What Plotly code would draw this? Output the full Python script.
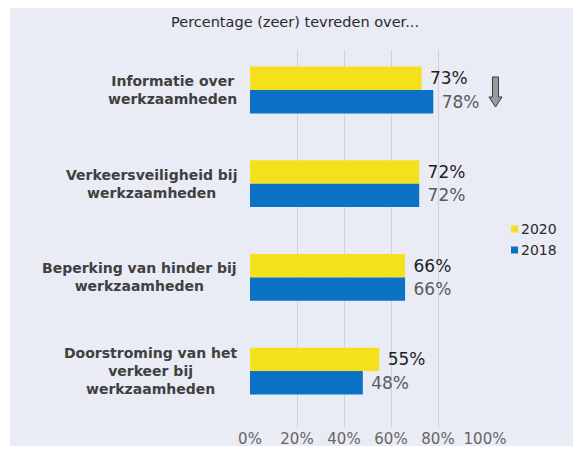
import plotly.graph_objects as go

# data
categories = [
    "Informatie over<br>werkzaamheden",
    "Verkeersveiligheid bij<br>werkzaamheden",
    "Beperking van hinder bij<br>werkzaamheden",
    "Doorstroming van het<br>verkeer bij<br>werkzaamheden",
]
values_2020 = [73, 72, 66, 55]
values_2018 = [78, 72, 66, 48]
x_ticks = [0, 20, 40, 60, 80, 100]
title_text = "Percentage (zeer) tevreden over..."

YELLOW = "#F4E01B"
BLUE = "#0B72C5"
BG = "#E9EBF5"
FONT = "DejaVu Sans"

# the page body adds an 8px margin, so the figure is shrunk by that much
OFF = 8
W, H = 581 - OFF, 450 - OFF
L, R, T, B = 250 - OFF, 96, 50 - OFF, 22
PW, PH = W - L - R, H - T - B


def px_x(px):
    # screen pixel -> paper coordinate
    return (px - OFF - L) / PW


def px_y(py):
    return (H - B - (py - OFF)) / PH


idx = list(range(len(categories)))

fig = go.Figure()
fig.add_trace(go.Bar(
    y=idx, x=values_2020, orientation="h", name="2020",
    marker=dict(color=YELLOW, line=dict(width=0)),
    text=[f"\u00a0{v}%" for v in values_2020], textposition="outside",
    textfont=dict(family=FONT, size=17, color="#1E1E1E"),
    cliponaxis=False, showlegend=False,
))
fig.add_trace(go.Bar(
    y=idx, x=values_2018, orientation="h", name="2018",
    marker=dict(color=BLUE, line=dict(width=0)),
    text=[f"\u00a0{v}%" for v in values_2018], textposition="outside",
    textfont=dict(family=FONT, size=17, color="#5A5A5A"),
    cliponaxis=False, showlegend=False,
))

# category labels: lines centred, block right-aligned
for i, cat in enumerate(categories):
    fig.add_annotation(
        x=px_x(239), xref="paper", y=i, yref="y",
        text=f"<b>{cat}</b>", showarrow=False,
        xanchor="right", yanchor="middle", align="center",
        font=dict(family=FONT, size=14, color="#404040"),
    )

# title
fig.add_annotation(
    x=px_x(295), xref="paper", y=px_y(22), yref="paper",
    text=title_text, showarrow=False, xanchor="center", yanchor="middle",
    font=dict(family=FONT, size=14.5, color="#2A2A2A"),
)

# legend drawn by hand
for label, color, py in [("2020", YELLOW, 229), ("2018", BLUE, 250)]:
    fig.add_shape(type="rect", xref="paper", yref="paper",
                  x0=px_x(511), x1=px_x(518), y0=px_y(py + 3.5), y1=px_y(py - 3.5),
                  fillcolor=color, line=dict(width=0))
    fig.add_annotation(x=px_x(519), xref="paper", y=px_y(py), yref="paper",
                       text=label, showarrow=False, xanchor="left", yanchor="middle",
                       font=dict(family=FONT, size=14, color="#2A2A2A"))

# down arrow
pts = [(492.5, 77), (498.5, 77), (498.5, 97), (502, 97), (495.5, 107), (489, 97), (492.5, 97)]
path = "M " + " L ".join(f"{px_x(a):.4f},{px_y(b):.4f}" for a, b in pts) + " Z"
fig.add_shape(type="path", xref="paper", yref="paper", path=path,
              fillcolor="#9A9A9A", line=dict(color="#3A3A3A", width=1))

# white border strips
fig.add_shape(type="rect", xref="paper", yref="paper", layer="below",
              x0=px_x(0), x1=px_x(10), y0=px_y(460), y1=px_y(0),
              fillcolor="white", line=dict(width=0))
fig.add_shape(type="rect", xref="paper", yref="paper", layer="below",
              x0=px_x(0), x1=px_x(590), y0=px_y(460), y1=px_y(446),
              fillcolor="white", line=dict(width=0))

slot = 93.7
fig.update_layout(
    width=W, height=H,
    margin=dict(l=L, r=R, t=T, b=B, autoexpand=False),
    paper_bgcolor=BG, plot_bgcolor=BG,
    barmode="group", bargap=0.5, bargroupgap=0,
    xaxis=dict(range=[0, 100], tickvals=x_ticks,
               ticktext=[f"{v}%" for v in x_ticks],
               showgrid=True, gridcolor="#CFD0D8", gridwidth=1,
               zeroline=False, showline=False, ticks="", automargin=False,
               tickfont=dict(family=FONT, size=15, color="#666666")),
    yaxis=dict(range=[(450 - 22 - 90) / slot, (50 - 90) / slot], automargin=False,
               showticklabels=False, showgrid=False, zeroline=False, showline=False),
    showlegend=False,
)

fig.write_html("out.html", config={"displayModeBar": False})
